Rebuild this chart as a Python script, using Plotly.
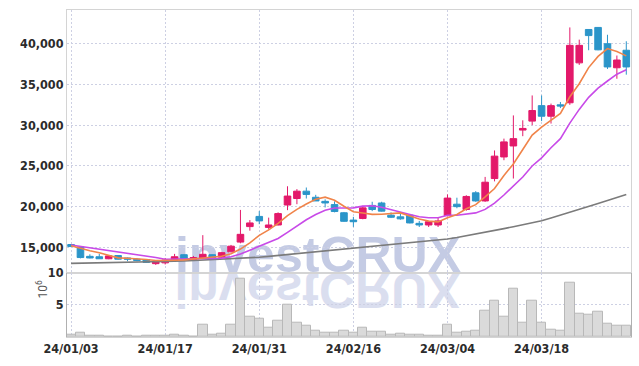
import base64
import plotly.graph_objects as go

dates = [
    "24/01/03", "24/01/04", "24/01/05", "24/01/08", "24/01/09", "24/01/10", "24/01/11", "24/01/12",
    "24/01/15", "24/01/16", "24/01/17", "24/01/18", "24/01/19", "24/01/22", "24/01/23", "24/01/24",
    "24/01/25", "24/01/26", "24/01/29", "24/01/30", "24/01/31", "24/02/01", "24/02/02", "24/02/05",
    "24/02/06", "24/02/07", "24/02/08", "24/02/13", "24/02/14", "24/02/15", "24/02/16", "24/02/19",
    "24/02/20", "24/02/21", "24/02/22", "24/02/23", "24/02/26", "24/02/27", "24/02/28", "24/02/29",
    "24/03/04", "24/03/05", "24/03/06", "24/03/07", "24/03/08", "24/03/11", "24/03/12", "24/03/13",
    "24/03/14", "24/03/15", "24/03/18", "24/03/19", "24/03/20", "24/03/21", "24/03/22", "24/03/25",
    "24/03/26", "24/03/27", "24/03/28", "24/03/29",
]

opens = [15350, 15050, 13900, 13850, 13600, 14000, 13700, 13550, 13500, 13000,
         13100, 13400, 14100, 13500, 13650, 14100, 13800, 14450, 15650, 17550,
         18800, 17450, 17750, 20200, 21000, 21900, 21150, 20650, 20250, 19250,
         18350, 18550, 20150, 20450, 18950, 18750, 18950, 17950, 17750, 17750,
         18900, 20300, 19650, 21700, 20700, 23450, 26100, 27450, 29400, 30500,
         32400, 31100, 32500, 32750, 37650, 41750, 42000, 40000, 37050, 39200]
highs = [15400, 15100, 14150, 14200, 14050, 14050, 13750, 13700, 13550, 13300,
         13700, 14200, 14150, 13950, 16500, 14150, 14450, 15300, 19600, 18350,
         19450, 18650, 19300, 22500, 22150, 22350, 21450, 20900, 20650, 19350,
         18750, 20100, 20600, 20600, 19300, 19350, 19100, 18250, 18250, 18700,
         21500, 21100, 21400, 21900, 23650, 26900, 28350, 31200, 30600, 33650,
         33650, 32650, 32850, 42000, 40500, 41800, 42050, 41100, 38550, 40300]
lows = [15050, 13650, 13650, 13600, 13550, 13500, 13300, 13300, 13100, 12850,
        12900, 13350, 13550, 13450, 13600, 13650, 13750, 14400, 15500, 17050,
        17850, 17200, 17700, 19570, 20300, 21000, 20700, 19900, 19300, 18150,
        17520, 18450, 19450, 19400, 18600, 18400, 17950, 17500, 17500, 17500,
        18800, 19800, 19500, 20600, 20600, 23100, 25700, 23450, 28650, 30000,
        30500, 30200, 32100, 32500, 37400, 39200, 39200, 36900, 35700, 36200]
closes = [15100, 13750, 13700, 13600, 13950, 13550, 13550, 13400, 13150, 13250,
          13450, 13850, 13600, 13750, 14150, 13700, 14350, 15150, 16600, 18000,
          18250, 17750, 19150, 21300, 21900, 21500, 20700, 20450, 19400, 18200,
          18150, 19850, 19650, 19450, 18700, 18500, 18000, 17750, 18150, 18250,
          21050, 20000, 21250, 20700, 23000, 26200, 27950, 28350, 29600, 31800,
          31100, 32400, 32350, 39800, 39800, 41000, 39250, 37150, 38000, 37150]

ma_short = [15200, 14870, 14590, 14340, 14050, 13710, 13670, 13610, 13520, 13380,
            13360, 13420, 13460, 13580, 13760, 13810, 13910, 14220, 14790, 15560,
            16470, 17150, 17950, 18890, 19670, 20320, 20910, 21170, 20790, 20050,
            19380, 19210, 19050, 19060, 19160, 19230, 18860, 18480, 18220, 18130,
            18640, 19040, 19740, 20250, 21200, 22230, 23820, 25240, 27020, 28780,
            29760, 30650, 31450, 33490, 35090, 37070, 38440, 39400, 39040, 38510]
ma_mid = [15300, 15130, 14960, 14800, 14630, 14470, 14300, 14140, 13970, 13750,
          13535, 13545, 13535, 13550, 13570, 13585, 13665, 13840, 14185, 14660,
          15140, 15530, 16085, 16840, 17615, 18395, 19030, 19560, 19840, 19860,
          19850, 20060, 20110, 19925, 19605, 19305, 19035, 18765, 18640, 18645,
          18935, 18950, 19110, 19235, 19665, 20435, 21430, 22490, 23635, 24990,
          25995, 27235, 28345, 30255, 31935, 33415, 34545, 35425, 36265, 36800]
ma_long = [13040, 13055, 13070, 13085, 13110, 13130, 13150, 13175, 13200, 13225,
           13250, 13290, 13330, 13380, 13420, 13470, 13530, 13590, 13660, 13720,
           13790, 13890, 14000, 14110, 14220, 14330, 14440, 14550, 14660, 14770,
           14870, 14980, 15090, 15200, 15320, 15430, 15550, 15670, 15790, 15900,
           16020, 16210, 16410, 16620, 16840, 17060, 17300, 17540, 17780, 18030,
           18280, 18610, 18950, 19300, 19680, 20060, 20400, 20760, 21120, 21490]

volume_mil = [0.35, 0.62, 0.2, 0.2, 0.05, 0.05, 0.15, 0.1, 0.15, 0.2,
              0.2, 0.3, 0.15, 0.05, 1.86, 0.3, 0.5, 1.86, 9.1, 3.1,
              2.8, 1.4, 2.5, 5.0, 2.3, 1.7, 1.0, 0.67, 0.67, 1.0,
              0.72, 1.39, 0.82, 0.82, 0.31, 0.52, 0.31, 0.31, 0.15, 0.15,
              1.86, 0.72, 0.88, 1.03, 4.07, 5.72, 3.14, 7.58, 2.16, 5.72,
              2.22, 1.08, 0.98, 8.5, 3.6, 3.45, 4.0, 2.06, 1.7, 1.7]

price_ticks = [15000, 20000, 25000, 30000, 35000, 40000]
volume_ticks = [5, 10]
x_ticks = dates[0::10]

RED = "#e3196a"
BLUE = "#2b95c9"
GRID = "#cdd0e3"
FRAME = "#d4d4d4"
TICKFONT = dict(family="DejaVu Sans Condensed, sans-serif",
                size=12.5, color="#2b2b2b", weight="bold")
DOTS = "2px,2px"

fig = go.Figure()

fig.add_trace(go.Candlestick(
    x=dates, open=opens, high=highs, low=lows, close=closes,
    xaxis="x", yaxis="y",
    increasing=dict(line=dict(color=RED, width=1), fillcolor=RED),
    decreasing=dict(line=dict(color=BLUE, width=1), fillcolor=BLUE),
    whiskerwidth=0, showlegend=False, hoverinfo="skip",
))
fig.add_trace(go.Scatter(x=dates, y=ma_long, mode="lines", xaxis="x", yaxis="y",
                         line=dict(color="#7b7b7b", width=1.6), hoverinfo="skip"))
fig.add_trace(go.Scatter(x=dates, y=ma_mid, mode="lines", xaxis="x", yaxis="y",
                         line=dict(color="#c84ae8", width=1.6), hoverinfo="skip"))
fig.add_trace(go.Scatter(x=dates, y=ma_short, mode="lines", xaxis="x", yaxis="y",
                         line=dict(color="#f0844a", width=1.6), hoverinfo="skip"))
fig.add_trace(go.Bar(x=dates, y=volume_mil, xaxis="x2", yaxis="y2",
                     marker=dict(color="#dadada", line=dict(color="#b8b8b8", width=1)),
                     hoverinfo="skip"))

PRICE_DOM = [0.1966, 1]
VOL_DOM = [0, 0.1966]
XR = [-0.43, 59.5]

common_x = dict(type="category", range=XR, tickvals=x_ticks, ticktext=x_ticks,
                showgrid=True, gridcolor=GRID, griddash=DOTS, gridwidth=1,
                showline=True, linecolor=FRAME, linewidth=1, mirror=True,
                ticks="", zeroline=False, fixedrange=True, automargin=False)

fig.update_layout(
    width=639, height=366,
    margin=dict(l=67, r=8, t=10, b=29),
    paper_bgcolor="white", plot_bgcolor="white",
    showlegend=False, bargap=0, boxgap=0.3, boxgroupgap=0,
    xaxis=dict(common_x, domain=[0, 1], anchor="y", showticklabels=False,
               rangeslider=dict(visible=False)),
    xaxis2=dict(common_x, domain=[0, 1], anchor="y2", matches="x",
                showticklabels=True, tickfont=TICKFONT),
    yaxis=dict(domain=PRICE_DOM, range=[11890, 44140], tickvals=price_ticks,
               tickformat=",", tickfont=TICKFONT, showgrid=True, gridcolor=GRID,
               griddash=DOTS, showline=True, linecolor=FRAME, mirror=True,
               ticks="", zeroline=False, fixedrange=True, automargin=False),
    yaxis2=dict(domain=VOL_DOM, range=[0, 10], tickvals=volume_ticks,
                tickfont=TICKFONT, showgrid=True, gridcolor=GRID, griddash=DOTS,
                showline=True, linecolor="#b0b0b0", mirror=True, ticks="",
                zeroline=False, fixedrange=True, automargin=False),
)

# watermark (below the data)
fig.add_shape(type="rect", xref="paper", yref="paper",
              x0=0.10, x1=0.79, y0=0.21, y1=0.32,
              line=dict(width=0), fillcolor="rgba(0,0,0,0)", layer="below",
              label=dict(text="investCRUX", textposition="middle center",
                         font=dict(family="Liberation Sans, Arial, sans-serif", size=50,
                                   color="#c4cbe4", weight="bold")))

svg = ('<svg xmlns="http://www.w3.org/2000/svg" width="320" height="50" viewBox="0 0 320 50">'
       '<text x="160" y="0" transform="scale(1,-1)" text-anchor="middle" '
       'font-family="Liberation Sans, Arial, sans-serif" font-weight="bold" font-size="50" '
       'fill="#dadeef">investCRUX</text></svg>')
src = "data:image/svg+xml;base64," + base64.b64encode(svg.encode()).decode()
fig.add_layout_image(dict(source=src, xref="paper", yref="paper",
                          x=(157.5 - 67) / 564, y=(337 - 273) / 327,
                          sizex=320 / 564, sizey=50 / 327, xanchor="left", yanchor="top",
                          sizing="stretch", layer="below"))

fig.add_annotation(text="10<sup>6</sup>", xref="paper", yref="paper",
                   x=(31 - 67) / 564, y=(337 - 301) / 327, showarrow=False,
                   textangle=-90, font=dict(family="Roboto, sans-serif", size=12, color="#555"))

fig.write_html("out.html", config={"displayModeBar": False},
               post_script="document.body.style.margin='0px';")
